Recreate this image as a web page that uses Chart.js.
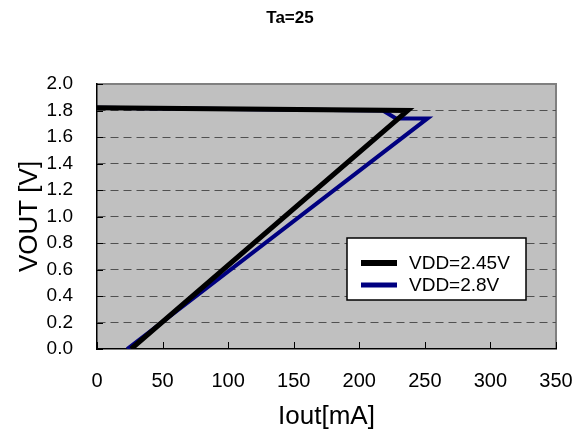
<!DOCTYPE html>
<html>
<head>
<meta charset="utf-8">
<script src="https://cdn.jsdelivr.net/npm/chart.js@4"></script>
<style>
html, body { margin: 0; padding: 0; background: #fff; }
</style>
</head>
<body>
<canvas id="chart" width="573" height="432"></canvas>
<script>
// Values
const chartTitle = 'Ta=25';
const seriesNames = ['VDD=2.45V', 'VDD=2.8V'];
const iout245 = [0, 237, 26];
const vout245 = [1.82, 1.80, 0];
const iout28 = [0, 218, 228, 252, 23];
const vout28 = [1.82, 1.80, 1.74, 1.74, 0];
const xRange = [0, 350];
const yRange = [0, 2.0];

const FONT = "'Liberation Sans', Arial, sans-serif";

function toPoints(xs, ys) {
    return xs.map((x, i) => ({ x: x, y: ys[i] }));
}

// plot background, border, inner tick marks, title and boxed legend
const decor = {
    id: 'decor',
    beforeDraw(chart) {
        const { ctx, chartArea: a } = chart;
        ctx.save();
        ctx.fillStyle = '#c0c0c0';
        ctx.fillRect(a.left, a.top, a.right - a.left, a.bottom - a.top);
        ctx.strokeStyle = '#808080';
        ctx.lineWidth = 2;
        ctx.beginPath();
        ctx.moveTo(a.left, a.top);
        ctx.lineTo(a.right, a.top);
        ctx.lineTo(a.right, a.bottom);
        ctx.stroke();
        ctx.restore();
    },
    afterDraw(chart) {
        const { ctx, chartArea: a, scales } = chart;
        ctx.save();
        // inward ticks
        ctx.strokeStyle = '#000';
        ctx.lineWidth = 1;
        ctx.beginPath();
        scales.y.ticks.forEach(t => {
            const py = Math.round(scales.y.getPixelForValue(t.value)) + 0.5;
            ctx.moveTo(a.left, py);
            ctx.lineTo(a.left + 6, py);
        });
        scales.x.ticks.forEach(t => {
            const px = Math.round(scales.x.getPixelForValue(t.value)) + 0.5;
            ctx.moveTo(px, a.bottom);
            ctx.lineTo(px, a.bottom - 7);
        });
        ctx.stroke();

        // title
        ctx.fillStyle = '#000';
        ctx.font = 'bold 17px ' + FONT;
        ctx.textAlign = 'center';
        ctx.textBaseline = 'middle';
        ctx.fillText(chartTitle, 290, 18);

        // legend
        const lx = 347, ly = 238, lw = 179, lh = 62;
        ctx.fillStyle = '#fff';
        ctx.fillRect(lx, ly, lw, lh);
        ctx.strokeStyle = '#000';
        ctx.lineWidth = 1.5;
        ctx.strokeRect(lx, ly, lw, lh);
        ctx.font = '19px ' + FONT;
        ctx.textAlign = 'left';
        chart.data.datasets.forEach((ds, i) => {
            const yy = ly + 25 + i * 22;
            ctx.strokeStyle = ds.borderColor;
            ctx.lineWidth = ds.borderWidth + 1;
            ctx.beginPath();
            ctx.moveTo(lx + 14, yy);
            ctx.lineTo(lx + 50, yy);
            ctx.stroke();
            ctx.fillStyle = '#000';
            ctx.fillText(ds.label, lx + 62, yy + 1);
        });
        ctx.restore();
    }
};

new Chart(document.getElementById('chart'), {
    type: 'scatter',
    data: {
        datasets: [
            { label: seriesNames[0], data: toPoints(iout245, vout245), showLine: true, borderColor: '#000000', borderWidth: 5, pointRadius: 0, tension: 0 },
            { label: seriesNames[1], data: toPoints(iout28, vout28), showLine: true, borderColor: '#000080', borderWidth: 4, pointRadius: 0, tension: 0 }
        ]
    },
    options: {
        responsive: false,
        animation: false,
        devicePixelRatio: 1,
        layout: { padding: { top: 84, right: 0, left: 0, bottom: 0 } },
        plugins: { legend: { display: false }, tooltip: { enabled: false } },
        scales: {
            x: {
                type: 'linear',
                min: xRange[0], max: xRange[1],
                afterFit: s => { s.height = 83; s.paddingRight = 17; s.paddingLeft = 0; },
                ticks: { stepSize: 50, autoSkip: false, color: '#000', font: { family: FONT, size: 20 }, padding: 20, maxRotation: 0 },
                grid: { drawOnChartArea: false, drawTicks: false },
                border: { color: '#000', width: 1.5 },
                title: { display: true, text: 'Iout[mA]', color: '#000', font: { family: FONT, size: 26 }, padding: { bottom: 0, top: 0 } }
            },
            y: {
                type: 'linear',
                min: yRange[0], max: yRange[1],
                afterFit: s => { s.width = 97; },
                ticks: { stepSize: 0.2, autoSkip: false, color: '#000', font: { family: FONT, size: 19 }, padding: 24, callback: v => v.toFixed(1) },
                grid: {
                    drawTicks: false,
                    lineWidth: 1,
                    color: c => (c.tick && (c.tick.value <= 0.001 || c.tick.value >= 1.999)) ? 'rgba(0,0,0,0)' : '#505050'
                },
                border: { color: '#000', width: 1.5, dash: [8, 5] },
                title: { display: true, text: 'VOUT [V]', color: '#000', font: { family: FONT, size: 26 }, padding: { top: 14, bottom: 0 } }
            }
        }
    },
    plugins: [decor]
});
</script>
</body>
</html>
